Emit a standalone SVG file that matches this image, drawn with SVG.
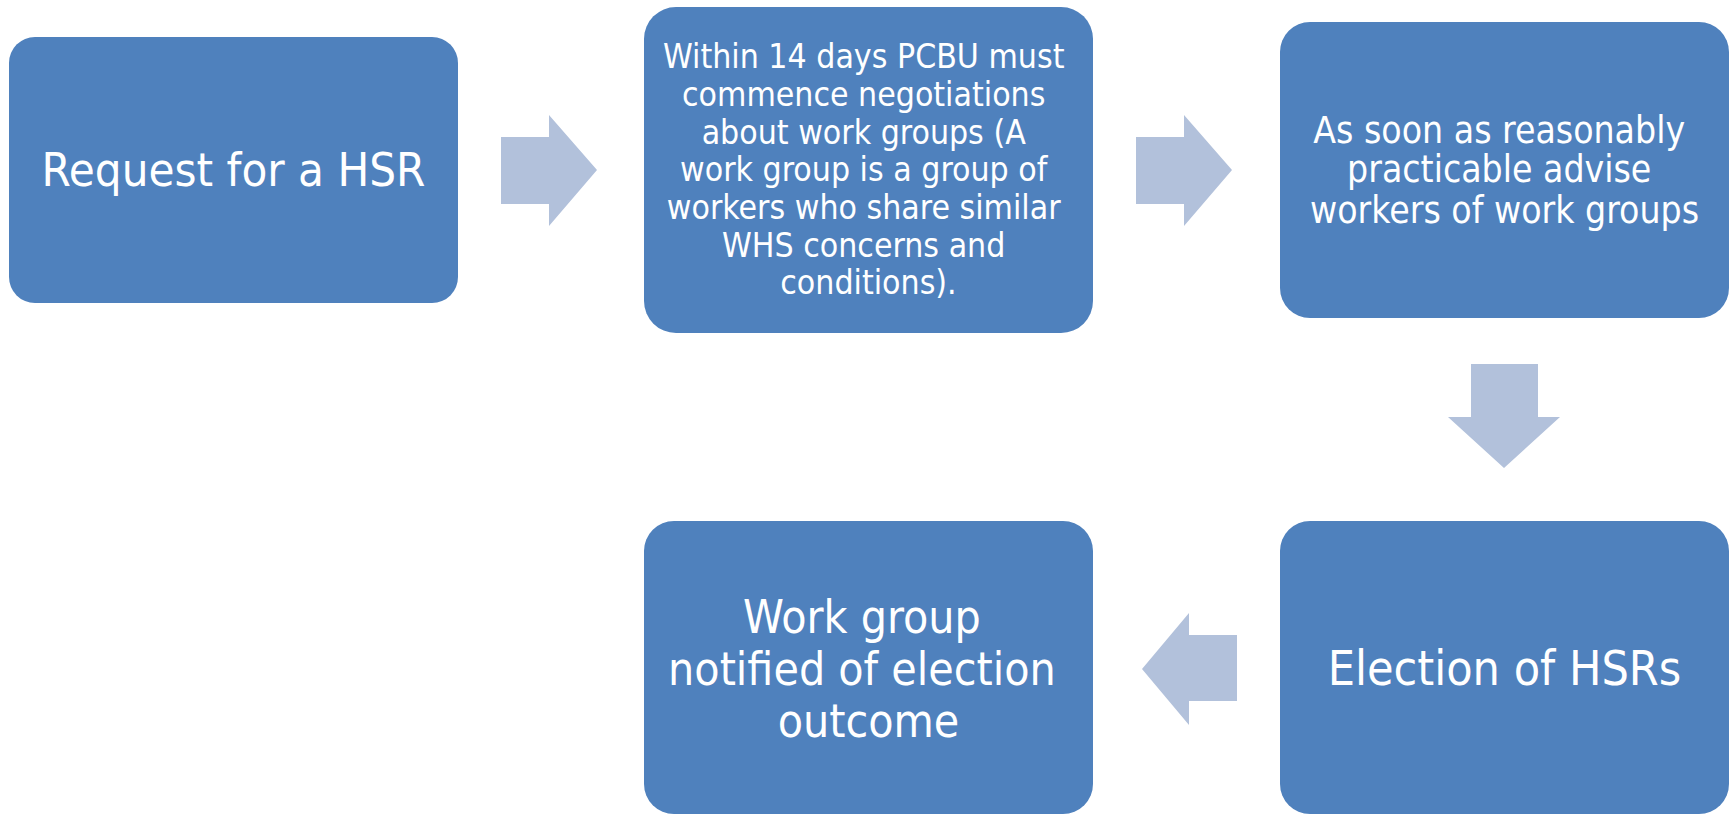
<svg xmlns="http://www.w3.org/2000/svg" width="1733" height="815" viewBox="0 0 1733 815">
  <style>
    .box { fill: #4F81BD; }
    .arrow { fill: #B2C1DB; }
    .label { fill: #FFFFFF; font-family: "DejaVu Sans Condensed", "DejaVu Sans", sans-serif; text-anchor: middle; }
  </style>
  <rect width="1733" height="815" fill="#FFFFFF"/>

  <!-- flow arrows between the steps -->
  <g id="connectors">
    <polygon class="arrow" points="501,137 549,137 549,115 597,170 549,226 549,204 501,204"/>
    <polygon class="arrow" points="1136,137 1184,137 1184,115 1232,170 1184,226 1184,204 1136,204"/>
    <polygon class="arrow" points="1471,364 1538,364 1538,417 1560,417 1504,468 1448,417 1471,417"/>
    <polygon class="arrow" points="1237,635 1189,635 1189,613 1142,669 1189,725 1189,701 1237,701"/>
  </g>

  <g id="step-request">
    <rect class="box" x="9" y="37" width="449" height="266" rx="26"/>
    <text class="label" x="233.5" y="186" font-size="47">Request for a HSR</text>
  </g>

  <g id="step-negotiate">
    <rect class="box" x="644" y="7" width="449" height="326" rx="32"/>
    <text class="label" font-size="33.5">
      <tspan x="868.5" y="68">Within 14 days PCBU must</tspan>
      <tspan x="868.5" y="106">commence negotiations</tspan>
      <tspan x="868.5" y="144">about work groups (A</tspan>
      <tspan x="868.5" y="181">work group is a group of</tspan>
      <tspan x="868.5" y="219">workers who share similar</tspan>
      <tspan x="868.5" y="257">WHS concerns and</tspan>
      <tspan x="868.5" y="294">conditions).</tspan>
    </text>
  </g>

  <g id="step-advise">
    <rect class="box" x="1280" y="22" width="449" height="296" rx="30"/>
    <text class="label" font-size="37">
      <tspan x="1504.5" y="143">As soon as reasonably</tspan>
      <tspan x="1504.5" y="182">practicable advise</tspan>
      <tspan x="1504.5" y="223">workers of work groups</tspan>
    </text>
  </g>

  <g id="step-election">
    <rect class="box" x="1280" y="521" width="449" height="293" rx="30"/>
    <text class="label" x="1504.5" y="685" font-size="48">Election of HSRs</text>
  </g>

  <g id="step-notify">
    <rect class="box" x="644" y="521" width="449" height="293" rx="30"/>
    <text class="label" font-size="46">
      <tspan x="868.5" y="633">Work group</tspan>
      <tspan x="868.5" y="685">notified of election</tspan>
      <tspan x="868.5" y="737">outcome</tspan>
    </text>
  </g>
</svg>
